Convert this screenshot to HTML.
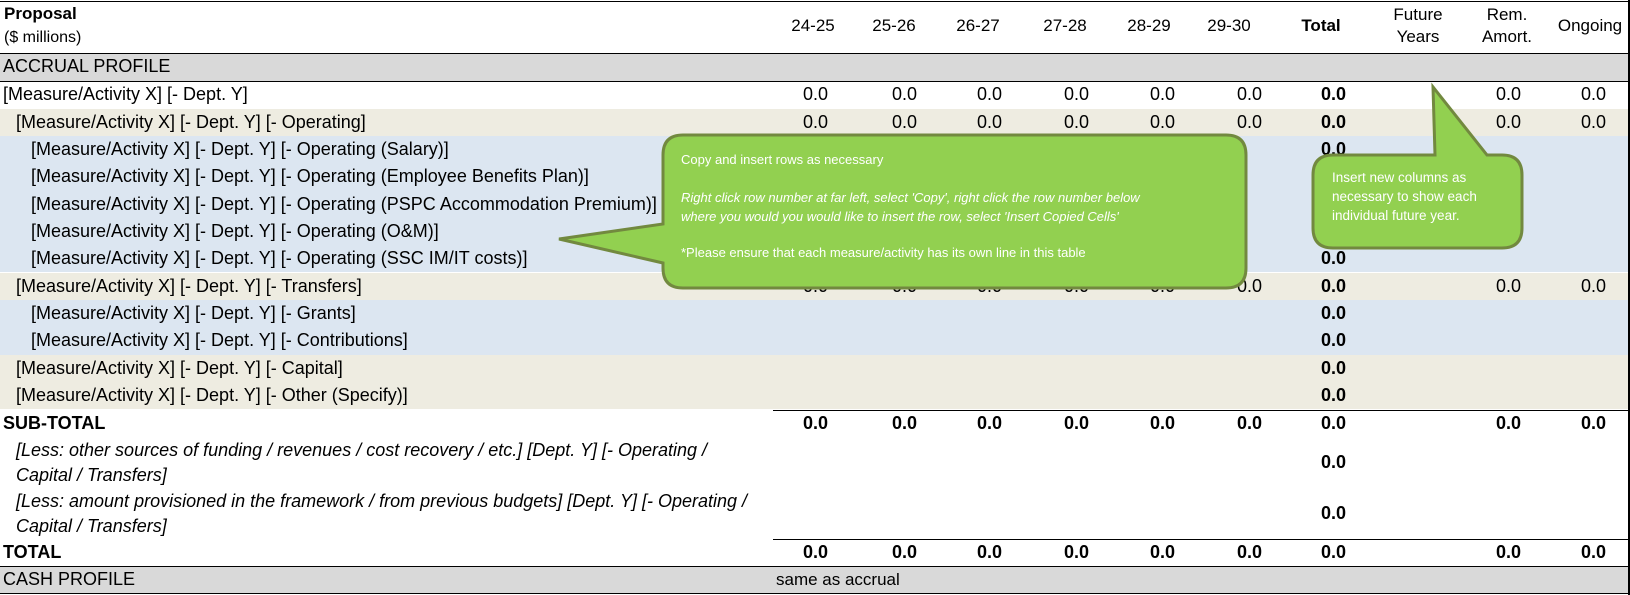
<!DOCTYPE html>
<html><head><meta charset="utf-8">
<style>
body{margin:0;width:1630px;height:595px;overflow:hidden;background:#fff;font-family:"Liberation Sans",Arial,sans-serif;color:#000;position:relative}
.a{position:absolute;white-space:nowrap}
.row{position:absolute;left:0;width:1630px}
.lbl{position:absolute;font-size:18px;line-height:27px;white-space:nowrap}
.v{position:absolute;font-size:18px;text-align:right;width:60px;white-space:nowrap}
.b{font-weight:bold}
.hline{position:absolute;height:0;border-top:1.5px solid #000}
.hd{position:absolute;font-size:17px;text-align:center;width:90px;line-height:22px}
.ct{position:absolute;color:#fff;font-family:"Liberation Sans",Calibri,sans-serif;white-space:nowrap}
</style></head>
<body>
<div id="root"></div>
<div class="a b" style="left:4px;top:4px;font-size:17px">Proposal</div>
<div class="a" style="left:4px;top:29px;font-size:16px">($ millions)</div>

<svg class="a" style="left:0;top:0" width="1630" height="595">
<path d="M683,135 H1226 Q1246,135 1246,155 V268 Q1246,288 1226,288 H683 Q663,288 663,268 V263 L559,239 L663,224 V155 Q663,135 683,135 Z" fill="#92d050" stroke="#72893f" stroke-width="3"/>
<path d="M1333,155 H1435 L1433,87 L1487,155 H1502 Q1522,155 1522,175 V228 Q1522,248 1502,248 H1333 Q1313,248 1313,228 V175 Q1313,155 1333,155 Z" fill="#92d050" stroke="#72893f" stroke-width="3"/>
</svg>
<div class="ct" style="left:681px;top:152px;font-size:13px">Copy and insert rows as necessary</div>
<div class="ct" style="left:681px;top:188px;font-size:13px;font-style:italic;line-height:19px">Right click row number at far left, select 'Copy', right click the row number below<br>where you would you would like to insert the row, select 'Insert Copied Cells'</div>
<div class="ct" style="left:681px;top:245px;font-size:13px">*Please ensure that each measure/activity has its own line in this table</div>
<div class="ct" style="left:1332px;top:168px;font-size:13.5px;line-height:19px">Insert new columns as<br>necessary to show each<br>individual future year.</div>

<script>
const headers=["24-25","25-26","26-27","27-28","28-29","29-30","Total","Future<br>Years","Rem.<br>Amort.","Ongoing"];
const headerCenters=[813,894,978,1065,1149,1229,1321,1418,1507,1590];
const valueRight=[828,917,1002,1089,1175,1262,1346,null,1521,1606];
// rows: label, indent, background, top, height, kind
const rows=[
["[Measure/Activity X] [- Dept. Y]",3,"#fff",81,27.5,"all"],
["[Measure/Activity X] [- Dept. Y] [- Operating]",16,"#eeece1",108.5,27.5,"all"],
["[Measure/Activity X] [- Dept. Y] [- Operating (Salary)]",31,"#dce6f1",136,27.3,"total"],
["[Measure/Activity X] [- Dept. Y] [- Operating (Employee Benefits Plan)]",31,"#dce6f1",163.3,27.3,"total"],
["[Measure/Activity X] [- Dept. Y] [- Operating (PSPC Accommodation Premium)]",31,"#dce6f1",190.6,27.3,"total"],
["[Measure/Activity X] [- Dept. Y] [- Operating (O&M)]",31,"#dce6f1",217.9,27.3,"total"],
["[Measure/Activity X] [- Dept. Y] [- Operating (SSC IM/IT costs)]",31,"#dce6f1",245.2,27.3,"total"],
["[Measure/Activity X] [- Dept. Y] [- Transfers]",16,"#eeece1",272.5,27.5,"all"],
["[Measure/Activity X] [- Dept. Y] [- Grants]",31,"#dce6f1",300,27.3,"total"],
["[Measure/Activity X] [- Dept. Y] [- Contributions]",31,"#dce6f1",327.3,27.3,"total"],
["[Measure/Activity X] [- Dept. Y] [- Capital]",16,"#eeece1",354.6,27.3,"total"],
["[Measure/Activity X] [- Dept. Y] [- Other (Specify)]",16,"#eeece1",381.9,27.6,"total"],
["SUB-TOTAL",3,"#fff",410,27,"bold"],
["[Less: other sources of funding / revenues / cost recovery / etc.] [Dept. Y] [- Operating /<br>Capital / Transfers]",16,"#fff",437,51,"italic"],
["[Less: amount provisioned in the framework / from previous budgets] [Dept. Y] [- Operating /<br>Capital / Transfers]",16,"#fff",488,51,"italic"],
["TOTAL",3,"#fff",539,27,"bold"]
];
const cellValue="0.0";
const body=document.body;
function add(cls,style,html){const d=document.createElement('div');d.className=cls;d.style.cssText=style;d.innerHTML=html;body.insertBefore(d,body.querySelector('svg'));return d;}
headers.forEach((h,i)=>{
 const d=add('hd'+(i===6?' b':''),'left:'+(headerCenters[i]-45)+'px;top:'+(h.includes('<br>')?4:15)+'px',h);
 
 
});
const s1=add('row','top:53px;height:28px;background:#d9d9d9','<div class="lbl" style="left:3px;top:0">ACCRUAL PROFILE</div>');


rows.forEach((r,ri)=>{
 const d=add('row','top:'+r[3]+'px;height:'+r[4]+'px;background:'+r[2],'');
 
 
 const l=document.createElement('div');
 l.className='lbl'+(r[5]==='bold'?' b':'');
 l.style.cssText='left:'+r[1]+'px;top:0;'+(r[5]==='italic'?'font-style:italic;line-height:25px;top:1px':'');
 l.innerHTML=r[0];
 
 
 d.appendChild(l);
 const ty=(r[4]-21)/2;
 valueRight.forEach((x,ci)=>{
  if(x===null)return;
  if((r[5]==='total'||r[5]==='italic')&&ci!==6)return;
  const v=document.createElement('div');
  v.className='v'+(ci===6||r[5]==='bold'?' b':'');
  v.style.cssText='left:'+(x-60)+'px;top:'+ty+'px';
  v.textContent=cellValue;
  
  
  d.appendChild(v);
 });
});
const s2=add('row','top:566px;height:28px;background:#d9d9d9','<div class="lbl" style="left:3px;top:0">CASH PROFILE</div><div class="lbl" style="left:776px;top:0;font-size:17px">same as accrual</div>');


[[0,1,1630],[0,53,1630],[0,81,1630],[773,410,857],[773,539,857],[0,566,1630],[0,593,1630]].forEach((ln,i)=>{
 const h=add('hline','left:'+ln[0]+'px;top:'+ln[1]+'px;width:'+ln[2]+'px','');
 
 
});
const vb=add('a','left:1628px;top:0;width:1.5px;height:595px;background:#000','');


</script>
</body></html>
